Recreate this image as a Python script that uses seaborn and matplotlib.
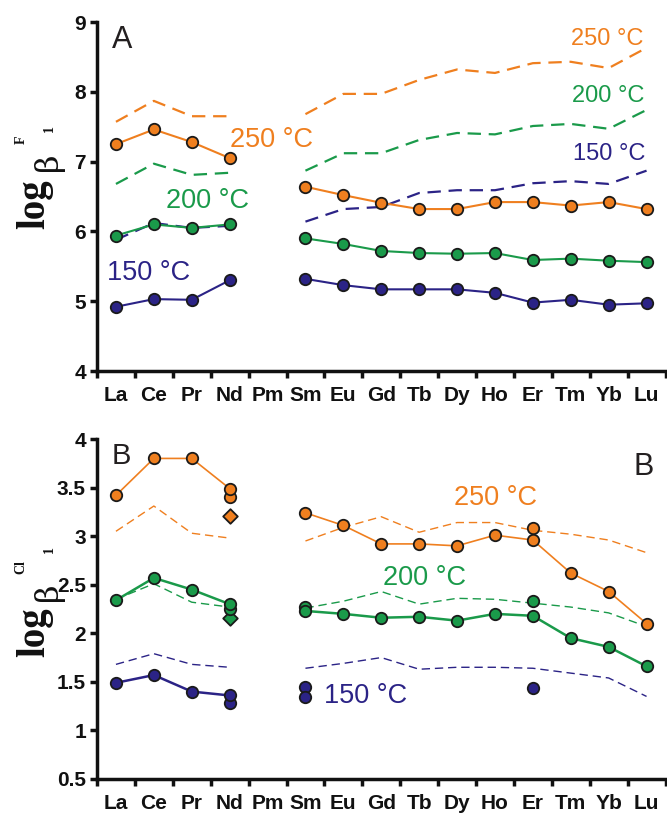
import numpy as np
import pandas as pd
import matplotlib
matplotlib.use("Agg")
import matplotlib.pyplot as plt
import seaborn as sns

nan = np.nan
REE = ['La', 'Ce', 'Pr', 'Nd', 'Pm', 'Sm', 'Eu', 'Gd', 'Tb', 'Dy', 'Ho', 'Er', 'Tm', 'Yb', 'Lu']

# Panel A: log beta1 (F)
A_exp_250 = [7.25, 7.46, 7.28, 7.05, nan, 6.64, 6.52, 6.41, 6.32, 6.32, 6.42, 6.42, 6.37, 6.42, 6.32]
A_exp_200 = [5.94, 6.10, 6.05, 6.10, nan, 5.90, 5.82, 5.72, 5.69, 5.68, 5.69, 5.59, 5.61, 5.58, 5.56]
A_exp_150 = [4.92, 5.03, 5.02, 5.30, nan, 5.32, 5.23, 5.17, 5.17, 5.17, 5.12, 4.98, 5.02, 4.95, 4.97]
A_mod_250 = [7.57, 7.87, 7.65, 7.65, nan, 7.68, 7.97, 7.97, 8.17, 8.32, 8.27, 8.41, 8.43, 8.34, 8.63]
A_mod_200 = [6.68, 6.97, 6.81, 6.84, nan, 6.87, 7.12, 7.12, 7.31, 7.41, 7.39, 7.51, 7.54, 7.47, 7.74]
A_mod_150 = [5.88, 6.12, 6.05, 6.08, nan, 6.14, 6.32, 6.35, 6.55, 6.59, 6.59, 6.69, 6.72, 6.68, 6.87]

# Panel B: log beta1 (Cl)
B_exp_250 = [3.42, 3.80, 3.80, 3.49, nan, 3.24, 3.11, 2.92, 2.92, 2.90, 3.01, 2.96, 2.62, 2.43, 2.10]
B_exp_200 = [2.34, 2.57, 2.45, 2.30, nan, 2.23, 2.20, 2.16, 2.17, 2.13, 2.20, 2.18, 1.95, 1.86, 1.66]
B_exp_150 = [1.49, 1.57, 1.40, 1.36, nan, nan, nan, nan, nan, nan, nan, nan, nan, nan, nan]
B_mod_250 = [3.05, 3.31, 3.03, 2.98, nan, 2.95, 3.09, 3.20, 3.04, 3.14, 3.14, 3.06, 3.02, 2.96, 2.83]
B_mod_200 = [2.35, 2.51, 2.32, 2.27, nan, 2.26, 2.33, 2.43, 2.30, 2.36, 2.35, 2.31, 2.27, 2.21, 2.07]
B_mod_150 = [1.68, 1.79, 1.68, 1.65, nan, 1.64, 1.69, 1.75, 1.63, 1.65, 1.65, 1.64, 1.59, 1.54, 1.35]

B250_extra_cat = ['Nd', 'Er']
B250_extra_val = [3.40, 3.08]
B200_extra_cat = ['Nd', 'Sm', 'Er']
B200_extra_val = [2.25, 2.27, 2.33]
B150_extra_cat = ['Nd', 'Sm', 'Sm', 'Er']
B150_extra_val = [1.28, 1.45, 1.34, 1.44]
B_diamond_cat = ['Nd', 'Nd']
B_diamond_val = [3.21, 2.16]

ORANGE = '#EF7F1F'
GREEN = '#1A9A4A'
NAVY = '#2B2386'
EDGE = '#1a1a1a'

sns.set_theme(style='ticks')
plt.rcParams['font.family'] = ['Liberation Sans', 'DejaVu Sans']

W, H = 667, 818
fig = plt.figure(figsize=(W / 100, H / 100), dpi=100)
axA = fig.add_axes([97 / W, 1 - 371 / H, (665.5 - 97) / W, (371 - 22) / H])
axB = fig.add_axes([97 / W, 1 - 779 / H, (665.5 - 97) / W, (779 - 439) / H])


def frame(vals):
    df = pd.DataFrame({'pos': np.arange(len(REE)), 'val': vals})
    df['seg'] = np.where(df['pos'] < 4.5, 'L', 'H')
    return df.dropna()


def draw_line(ax, vals, color, lw, dashed=False, z=2):
    df = frame(vals)
    sns.lineplot(data=df, x='pos', y='val', units='seg', estimator=None, sort=False,
                 color=color, lw=lw, ls=(0, (6, 3.5)) if dashed else '-',
                 ax=ax, legend=False, zorder=z)


def draw_pts(ax, cats, vals, color, marker='o', s=68, z=3):
    x = [REE.index(c) for c in cats]
    sns.scatterplot(x=x, y=vals, color=color, marker=marker, s=s, edgecolor=EDGE,
                    linewidth=1.3, ax=ax, legend=False, zorder=z)


def exp_pts(ax, vals, color):
    df = frame(vals)
    draw_pts(ax, [REE[i] for i in df['pos']], list(df['val']), color)


# Panel A
for vals, c in [(A_mod_250, ORANGE), (A_mod_200, GREEN), (A_mod_150, NAVY)]:
    draw_line(axA, vals, c, 1.6, dashed=True, z=1)
for vals, c in [(A_exp_150, NAVY), (A_exp_200, GREEN), (A_exp_250, ORANGE)]:
    draw_line(axA, vals, c, 1.5, z=2)
    exp_pts(axA, vals, c)

# Panel B
for vals, c in [(B_mod_250, ORANGE), (B_mod_200, GREEN), (B_mod_150, NAVY)]:
    draw_line(axB, vals, c, 1.0, dashed=True, z=1)
draw_pts(axB, B_diamond_cat[:1], B_diamond_val[:1], ORANGE, marker='D', s=55)
draw_pts(axB, B_diamond_cat[1:], B_diamond_val[1:], GREEN, marker='D', s=55)
draw_pts(axB, B250_extra_cat, B250_extra_val, ORANGE)
draw_pts(axB, B200_extra_cat, B200_extra_val, GREEN)
draw_pts(axB, B150_extra_cat, B150_extra_val, NAVY)
for vals, c, lw in [(B_exp_150, NAVY, 1.8), (B_exp_200, GREEN, 1.8), (B_exp_250, ORANGE, 1.2)]:
    draw_line(axB, vals, c, lw, z=2)
    exp_pts(axB, vals, c)


def style_axis(ax, ylim, yticks, ylabels):
    ax.set_xlim(-0.5, 14.5)
    ax.set_ylim(*ylim)
    ax.set_xticks(range(len(REE)))
    ax.set_xticklabels(REE, fontweight='bold', fontsize=15)
    ax.set_xticks(np.arange(-0.5, 15, 1), minor=True)
    ax.tick_params(axis='x', which='major', length=0, pad=11, colors='#111111')
    ax.tick_params(axis='x', which='minor', length=5, width=2.5, direction='out', color='#111111')
    ax.set_yticks(yticks)
    ax.set_yticklabels(ylabels, fontweight='bold', fontsize=15)
    ax.tick_params(axis='y', length=5, width=2.5, pad=3, colors='#111111')
    ax.set_xlabel('')
    ax.set_ylabel('')
    for sp in ['top', 'right']:
        ax.spines[sp].set_visible(False)
    for sp in ['left', 'bottom']:
        ax.spines[sp].set_linewidth(2.5)
        ax.spines[sp].set_color('#111111')
    ax.set_facecolor('white')


style_axis(axA, (4, 9), [4, 5, 6, 7, 8, 9], ['4', '5', '6', '7', '8', '9'])
style_axis(axB, (0.5, 4), [0.5, 1, 1.5, 2, 2.5, 3, 3.5, 4],
           ['0.5', '1', '1.5', '2', '2.5', '3', '3.5', '4'])


def px(x, y):
    return x / W, 1 - y / H


def label(x, y, s, color, size):
    fig.text(*px(x, y), s, color=color, fontsize=size, ha='center', va='baseline')


label(122, 48, 'A', '#231f20', 22)
label(272, 147, '250 °C', ORANGE, 19.5)
label(207, 208, '200 °C', GREEN, 19.5)
label(149, 280, '150 °C', NAVY, 19.5)
label(607, 45, '250 °C', ORANGE, 17)
label(608, 102, '200 °C', GREEN, 17)
label(609, 160, '150 °C', NAVY, 17)

label(121, 464, 'B', '#231f20', 21)
label(644, 475, 'B', '#231f20', 22)
label(496, 505, '250 °C', ORANGE, 19.5)
label(425, 585, '200 °C', GREEN, 19.5)
label(366, 703, '150 °C', NAVY, 19.5)

SERIF = ['Liberation Serif', 'DejaVu Serif']


def ylab(y0, yb, sup, ysup, ysub):
    fig.text(*px(44, y0), 'log', family=SERIF, fontweight='bold', fontsize=28,
             rotation=90, rotation_mode='anchor', ha='left', va='baseline', color='#111111')
    fig.text(*px(57, yb), 'β', family=['DejaVu Serif'], fontsize=23,
             rotation=90, rotation_mode='anchor', ha='left', va='baseline', color='#111111')
    fig.text(*px(21, ysup), sup, family=SERIF, fontweight='bold', fontsize=10,
             rotation=90, rotation_mode='anchor', ha='center', va='center', color='#111111')
    fig.text(*px(49, ysub), '1', family=SERIF, fontweight='bold', fontsize=10,
             rotation=90, rotation_mode='anchor', ha='center', va='center', color='#111111')


ylab(229, 171, 'F', 140, 129)
ylab(657, 601, 'Cl', 567, 550)

fig.savefig('out.png', dpi=100, facecolor='white')
